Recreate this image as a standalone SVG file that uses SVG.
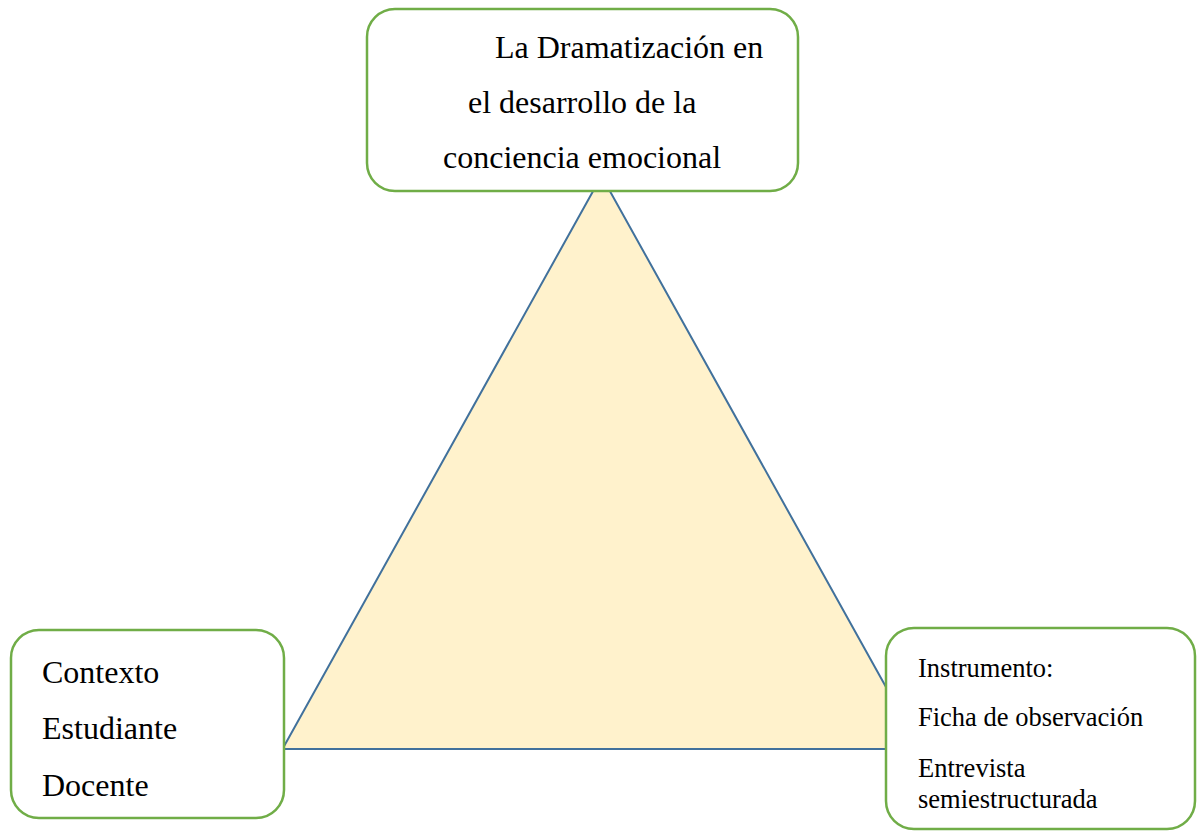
<svg xmlns="http://www.w3.org/2000/svg" width="1198" height="831" viewBox="0 0 1198 831">
<style>
.box{fill:#FFFFFF;stroke:#70AD47;stroke-width:2.5}
.t{font-family:"Liberation Serif","Times New Roman",serif;fill:#000000}
.big{font-size:32px}
.small{font-size:26.5px}
.tri{fill:#FFF2CC;stroke:#41719C;stroke-width:2}
</style>
<rect width="1198" height="831" fill="#FFFFFF"/>
<g id="connectors">
<polygon class="tri" points="601.5,176 282.5,749 920.5,749"/>
</g>
<g id="node-top">
<rect class="box" x="367" y="9" width="431" height="182" rx="28" ry="28"/>
<text class="t big" x="495" y="58">La Dramatización en</text>
<text class="t big" x="468" y="113">el desarrollo de la</text>
<text class="t big" x="443" y="168">conciencia emocional</text>
</g>
<g id="node-left">
<rect class="box" x="11" y="630" width="273" height="188" rx="28" ry="28"/>
<text class="t big" x="42" y="683">Contexto</text>
<text class="t big" x="42" y="739">Estudiante</text>
<text class="t big" x="42" y="796">Docente</text>
</g>
<g id="node-right">
<rect class="box" x="886" y="628" width="309" height="201" rx="28" ry="28"/>
<text class="t small" x="918" y="677">Instrumento:</text>
<text class="t small" x="918" y="726">Ficha de observación</text>
<text class="t small" x="918" y="777">Entrevista</text>
<text class="t small" x="918" y="808">semiestructurada</text>
</g>
</svg>
